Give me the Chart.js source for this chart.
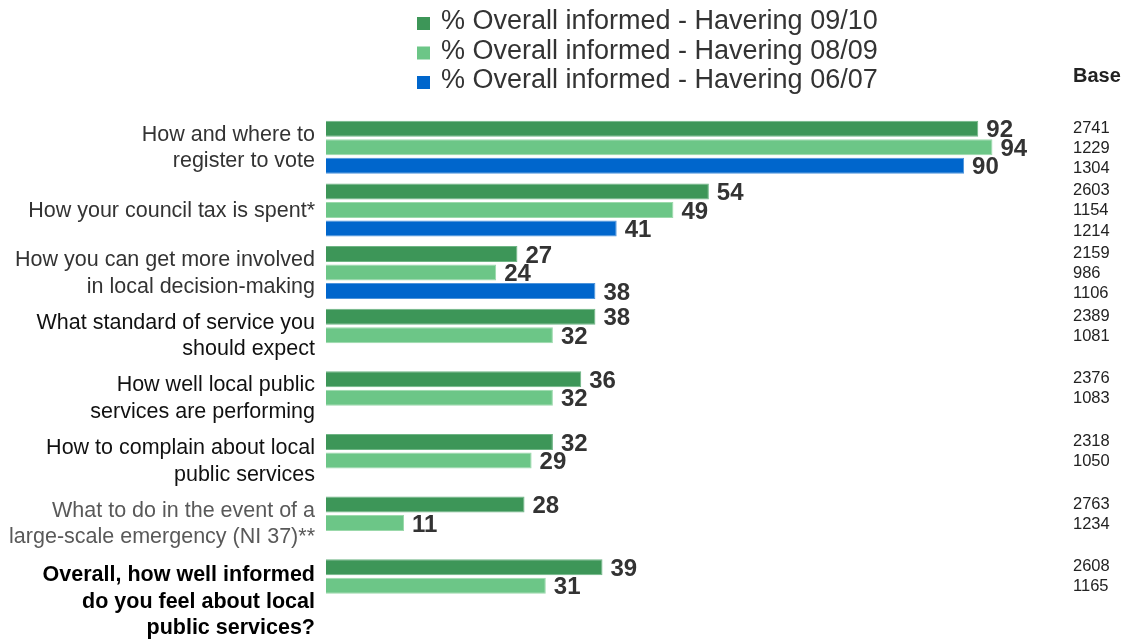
<!DOCTYPE html>
<html>
<head>
<meta charset="utf-8">
<script src="https://cdn.jsdelivr.net/npm/chart.js@4.4.0/dist/chart.umd.min.js"></script>
<style>
  html, body { margin: 0; padding: 0; background: #fff; }
</style>
</head>
<body>
<canvas id="chart" width="1129" height="639"></canvas>
<script>

var categories = [
    ["How and where to", "register to vote"],
    ["How your council tax is spent*"],
    ["How you can get more involved", "in local decision-making"],
    ["What standard of service you", "should expect"],
    ["How well local public", "services are performing"],
    ["How to complain about local", "public services"],
    ["What to do in the event of a", "large-scale emergency (NI 37)**"],
    ["Overall, how well informed", "do you feel about local", "public services?"]
];

var seriesNames = [
    "% Overall informed - Havering 09/10",
    "% Overall informed - Havering 08/09",
    "% Overall informed - Havering 06/07"
];

var informed0910 = [92, 54, 27, 38, 36, 32, 28, 39];
var informed0809 = [94, 49, 24, 32, 32, 29, 11, 31];
var informed0607 = [90, 41, 38, null, null, null, null, null];

var base0910 = [2741, 2603, 2159, 2389, 2376, 2318, 2763, 2608];
var base0809 = [1229, 1154, 986, 1081, 1083, 1050, 1234, 1165];
var base0607 = [1304, 1214, 1106, null, null, null, null, null];

var FONT = "Arial, 'Liberation Sans', sans-serif";
var colors = ["#3d9658", "#6cc687", "#0066cc"];
var edges = ["#6fb585", "#9bd9ab", "#4d94db"];
var labelInk = ["#333", "#333", "#333", "#111", "#111", "#111", "#595959", "#000"];

var bases = [base0910, base0809, base0607];

// axis labels, value labels, base column and legend are all painted here
var decorations = {
    id: 'decorations',
    afterDatasetsDraw: function(chart) {
        var ctx = chart.ctx;
        var area = chart.chartArea;
        var yScale = chart.scales.y;
        ctx.save();

        // category labels, right aligned next to the bars
        ctx.textAlign = 'right';
        ctx.textBaseline = 'middle';
        var lh = 26.5;
        categories.forEach(function(lines, i) {
            var last = i === categories.length - 1;
            ctx.font = (last ? 'bold ' : '') + '21.5px ' + FONT;
            ctx.fillStyle = labelInk[i];
            var cy = yScale.getPixelForValue(i);
            if (last) cy += 15;   // summary label hangs below its bars
            var y0 = cy - (lines.length - 1) * lh / 2;
            lines.forEach(function(t, k) {
                ctx.fillText(t, area.left - 11, y0 + k * lh + 1);
            });
        });

        // value labels at the end of each bar
        ctx.textAlign = 'left';
        ctx.font = 'bold 24px ' + FONT;
        ctx.fillStyle = '#333';
        chart.data.datasets.forEach(function(ds, d) {
            var meta = chart.getDatasetMeta(d);
            meta.data.forEach(function(el, i) {
                if (ds.data[i] == null) return;
                ctx.fillText(ds.data[i], el.x + 8, el.y + 2);
            });
        });

        // base sizes column
        ctx.font = 'bold 20px ' + FONT;
        ctx.fillStyle = '#222';
        ctx.textBaseline = 'alphabetic';
        ctx.fillText('Base', 1073, 82);
        ctx.font = '16.5px ' + FONT;
        ctx.textBaseline = 'middle';
        bases.forEach(function(arr, d) {
            var meta = chart.getDatasetMeta(d);
            arr.forEach(function(v, i) {
                if (v == null) return;
                var y = meta.data[i].y + (d - 1) * 1.5;
                ctx.fillText(v, 1073, y + 1);
            });
        });

        // legend, one series per row
        ctx.textBaseline = 'alphabetic';
        ctx.font = '27px ' + FONT;
        seriesNames.forEach(function(name, d) {
            var base = 29 + d * 29.5;
            ctx.fillStyle = colors[d];
            ctx.fillRect(417, base - 12, 13, 13);
            ctx.fillStyle = '#333';
            ctx.fillText(name, 441, base);
        });

        ctx.restore();
    }
};

var ctx = document.getElementById('chart').getContext('2d');
var chart = new Chart(ctx, {
    type: 'bar',
    data: {
        labels: categories,
        datasets: [informed0910, informed0809, informed0607].map(function(values, d) {
            return {
                label: seriesNames[d],
                data: values,
                backgroundColor: colors[d],
                borderColor: edges[d],
                borderWidth: 1,
                borderSkipped: 'start',
                categoryPercentage: 0.887,
                barPercentage: 0.865
            };
        })
    },
    options: {
        indexAxis: 'y',
        responsive: false,
        animation: false,
        devicePixelRatio: 1,
        layout: { padding: { top: 116, left: 326, right: 94, bottom: 22 } },
        plugins: {
            legend: { display: false },
            tooltip: { enabled: false }
        },
        scales: {
            x: { display: false, min: 0, max: 100 },
            y: { display: false }
        }
    },
    plugins: [decorations]
});
</script>
</body>
</html>
